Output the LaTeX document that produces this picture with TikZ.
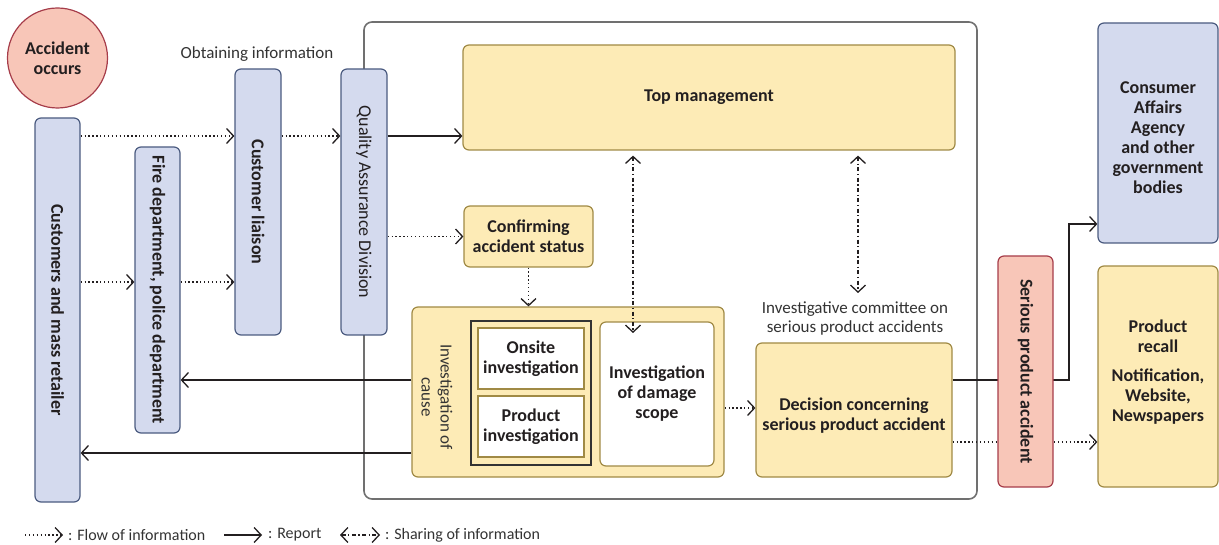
\documentclass[tikz,border=0pt]{standalone}
\usepackage{fontspec}
\setmainfont{Carlito}
\usetikzlibrary{arrows.meta,calc}
\definecolor{bfill}{HTML}{D4DAEE}
\definecolor{bdraw}{HTML}{4B5B80}
\definecolor{yfill}{HTML}{FDEBB6}
\definecolor{ydraw}{HTML}{A08A45}
\definecolor{rfill}{HTML}{F8C6B8}
\definecolor{rdraw}{HTML}{A63D4A}
\definecolor{outergrey}{HTML}{707070}
\definecolor{txt}{HTML}{231F20}
\definecolor{ltxt}{HTML}{333333}
\tikzset{
  bx/.style={rounded corners=6pt, line width=1.2pt, inner sep=0pt, text=txt, align=center,
    font=\bfseries\fontsize{18}{20}\selectfont},
  bluebox/.style={bx, fill=bfill, draw=bdraw},
  yelbox/.style={bx, fill=yfill, draw=ydraw},
  redbox/.style={bx, fill=rfill, draw=rdraw},
  whitebox/.style={bx, fill=white, draw=ydraw},
  vlab/.style={rotate=-90, text=txt, align=center, inner sep=0pt, font=\bfseries\fontsize{18}{20}\selectfont},
  vlabreg/.style={vlab, font=\fontsize{18}{20}\selectfont},
  lab/.style={text=ltxt, align=center, inner sep=0pt, font=\fontsize{17}{19}\selectfont},
  leglab/.style={lab, font=\fontsize{16}{19}\selectfont},
  barb/.tip={Straight Barb[length=7pt,width=15pt,line width=1.3pt]},
  info/.style={line width=1.3pt, dash pattern=on 1.3pt off 2.6pt, draw=txt, -barb},
  report/.style={line width=1.2pt, draw=txt, -barb},
  share/.style={line width=1.3pt, dash pattern=on 4pt off 2.5pt on 1.3pt off 2.5pt, draw=txt, barb-barb},
}
\begin{document}
\begin{tikzpicture}[x=1pt,y=-1pt]
\useasboundingbox (0,0) rectangle (1219,545);
% outer grey frame
\draw[outergrey, line width=1.6pt, rounded corners=8pt] (364,22) rectangle (977,499);

% level coordinates
\coordinate (y136) at (0,136);
\coordinate (y282) at (0,282);
\coordinate (y380) at (0,380);
\coordinate (y453) at (0,453);
\coordinate (y408) at (0,408);
\coordinate (y442) at (0,442);
\coordinate (y224) at (0,224);
\coordinate (xbend) at (1069,0);

% left side
\node[redbox, circle, minimum size=100pt] (acc) at (57.5,58) {Accident\\occurs};
\node[bluebox, minimum width=45pt, minimum height=384pt] (cust) at (57.5,310) {};
\node[vlab] (custT) at (cust.center) {Customers and mass retailer};
\node[bluebox, minimum width=45pt, minimum height=286pt] (fire) at (157.5,290) {};
\node[vlab] (fireT) at (fire.center) {Fire department, police department};
\node[bluebox, minimum width=46pt, minimum height=266pt] (liaison) at (258,202) {};
\node[vlab] (liaisonT) at (liaison.center) {Customer liaison};
\node[bluebox, minimum width=46pt, minimum height=266pt] (qa) at (364,202) {};
\node[vlabreg] (qaT) at (qa.center) {Quality Assurance Division};
\node[lab] (obt) at (257,54) {Obtaining information};

% inside frame
\node[yelbox, minimum width=492pt, minimum height=105pt] (top) at (709,97.5) {Top management};
\node[yelbox, minimum width=129pt, minimum height=61pt] (conf) at (528.5,236.5) {Confirming\\accident status};
\node[yelbox, minimum width=312pt, minimum height=170pt] (cause) at (568,392) {};
\node[lab, rotate=-90] (causeT) at (437,397) {Investigation of\\cause};
\node[draw=ltxt, line width=1.8pt, fill=yfill, minimum width=120pt, minimum height=144pt, inner sep=0pt] (inner) at (531,393) {};
\node[whitebox, rounded corners=0pt, minimum width=106pt, minimum height=61pt] (onsite) at (531,358.5) {Onsite\\investigation};
\node[whitebox, rounded corners=0pt, minimum width=106pt, minimum height=61pt] (prod) at (531,426.5) {Product\\investigation};
\node[whitebox, minimum width=114pt, minimum height=144pt] (damage) at (657,394) {Investigation\\of damage\\scope};
\node[yelbox, minimum width=196pt, minimum height=134pt] (decision) at (854,410) {};
\node[bx] (decisionT) at ($(decision.center)+(0,6)$) {Decision concerning\\serious product accident};
\node[lab] (committee) at (855,318) {Investigative committee on\\serious product accidents};

% right side
\node[bluebox, minimum width=120pt, minimum height=220pt] (caa) at (1158,133) {};
\node[bx] (caaT) at ($(caa.center)+(0,5)$) {Consumer\\Affairs\\Agency\\and other\\government\\bodies};
\node[yelbox, minimum width=120pt, minimum height=221pt] (recall) at (1158,376.5) {};
\node[bx] (recallT) at ($(recall.center)+(0,-4)$) {Product\\recall\\[9pt]Notification,\\Website,\\Newspapers};

% connectors
\draw[info] (cust.east |- y136) -- (liaison.west |- y136);
\draw[info] (liaison.east |- y136) -- (qa.west |- y136);
\draw[report] (qa.east |- y136) -- (top.west |- y136);
\draw[info] (cust.east |- y282) -- (fire.west |- y282);
\draw[info] (fire.east |- y282) -- (liaison.west |- y282);
\draw[info] (qa.east |- conf.west) -- (conf.west);
\draw[info] (conf.south) -- (conf.south |- cause.north);
\draw[report] (cause.west |- y380) -- (fire.east |- y380);
\draw[report] (cause.west |- y453) -- (cust.east |- y453);
\draw[info] (cause.east |- y408) -- (decision.west |- y408);
\coordinate (s1a) at ($(top.south)+(-76,5)$);
\coordinate (s1b) at (633,333);
\coordinate (s2a) at ($(top.south)+(149,5)$);
\coordinate (s2b) at (858,293);
\draw[share] (s1a) -- (s1b);
\draw[share] (s2a) -- (s2b);
\draw[report] (decision.east |- y380) -- (xbend |- y380) -- (xbend |- y224) -- (caa.west |- y224);
\draw[info] (decision.east |- y442) -- (recall.west |- y442);

% serious product accident (over the lines)
\node[redbox, minimum width=55pt, minimum height=231pt] (spa) at (1025.5,371.5) {};
\node[vlab] (spaT) at (spa.center) {Serious product accident};

% legend
\coordinate (l1a) at (25,535); \coordinate (l1b) at (63,535);
\coordinate (l2a) at (224,535); \coordinate (l2b) at (262,535);
\coordinate (l3a) at (340,535); \coordinate (l3b) at (380,535);
\draw[info] (l1a) -- (l1b);
\node[leglab, anchor=west] (leg1) at (68,535) {: Flow of information};
\draw[report] (l2a) -- (l2b);
\node[leglab, anchor=west] (leg2) at (268,535) {: Report};
\draw[share] (l3a) -- (l3b);
\node[leglab, anchor=west] (leg3) at (385,535) {: Sharing of information};
\end{tikzpicture}
\end{document}
